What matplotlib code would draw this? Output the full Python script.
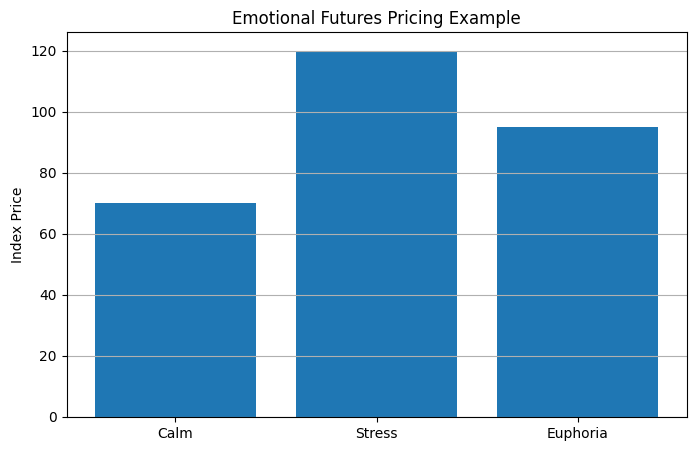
import matplotlib
matplotlib.use("Agg")
import matplotlib.pyplot as plt

states = ["Calm", "Stress", "Euphoria"]
prices = [70, 120, 95]

fig, ax = plt.subplots(figsize=(6.95, 4.51), dpi=100)
fig.subplots_adjust(left=0.0957, right=0.9878, top=0.928, bottom=0.0754)

ax.bar(states, prices, color="#1f77b4")
ax.set_title("Emotional Futures Pricing Example")
ax.set_ylabel("Index Price")
ax.grid(axis="y")

fig.savefig("out.png", dpi=100)
